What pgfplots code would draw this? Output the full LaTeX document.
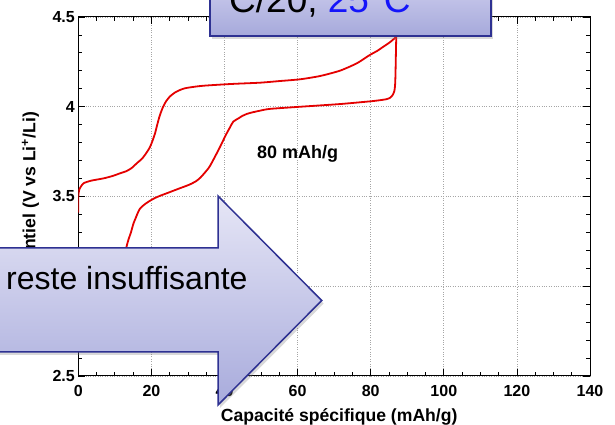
\documentclass[border=0pt]{standalone}
\usepackage{pgfplots}
\pgfplotsset{compat=1.18}
\usepackage{fontspec}
\setmainfont{Liberation Sans}
\usetikzlibrary{shadows}
\definecolor{curvered}{RGB}{228,0,0}
\definecolor{bordblue}{RGB}{46,49,146}
\definecolor{boxtop}{RGB}{206,206,238}
\definecolor{boxbot}{RGB}{166,169,219}
\definecolor{arrtop}{RGB}{230,230,246}
\definecolor{arrbot}{RGB}{168,171,220}
\definecolor{textblue}{RGB}{20,20,250}
\begin{document}
\begin{tikzpicture}
\begin{axis}[
  at={(78.3pt,49pt)}, anchor=south west,
  scale only axis, width=511.7pt, height=359pt,
  xmin=0, xmax=140, ymin=2.5, ymax=4.5,
  xtick={0,20,...,140}, ytick={2.5,3,3.5,4,4.5},
  minor x tick num=3, minor y tick num=4,
  tick align=inside, major tick length=7pt, minor tick length=4pt,
  grid=major, major grid style={dotted, black!35, line width=0.8pt},
  axis line style={line width=1pt},
  every tick/.style={black, line width=0.8pt},
  ticklabel style={font=\fontsize{16}{18}\selectfont\bfseries},
  xticklabel style={yshift=-6pt},
  /pgf/number format/assume math mode=true,
  xlabel={Capacité spécifique (mAh/g)},
  ylabel={Potentiel (V vs Li\textsuperscript{+}/Li)},
  label style={font=\fontsize{17.6}{19}\selectfont\bfseries},
  xlabel style={at={(axis description cs:0.5,0)}, anchor=base, yshift=-45.5pt, xshift=5pt},
  ylabel style={at={(axis description cs:-0.084,0.49)}, anchor=base},
]
\addplot[curvered, line width=1.8pt, line join=round, smooth, tension=0.4] coordinates {
(0,3.41) (0,3.50) (0.3,3.54) (1.4,3.573) (3.5,3.588) (6.9,3.601) (9.5,3.615) (11.4,3.629)
(13.0,3.640) (14.5,3.657) (16.0,3.685) (17.5,3.712) (18.7,3.745) (19.6,3.775)
(20.3,3.81) (21.0,3.852) (21.6,3.90) (22.2,3.945) (23.0,3.99) (24.0,4.03)
(25.1,4.058) (26.5,4.08) (27.8,4.093) (29,4.102) (30.6,4.108) (34.2,4.117) (42,4.127)
(49.7,4.134) (55,4.143) (60.7,4.153) (66.1,4.171) (71.6,4.201) (76.2,4.242)
(79.8,4.289) (81.7,4.31) (83.5,4.335) (85.3,4.36) (86.7,4.385) (87.0,4.40)
};
\addplot[curvered, line width=1.8pt, line join=round, smooth, tension=0.4] coordinates {
(87.0,4.40) (86.9,4.30) (86.8,4.20) (86.7,4.13) (86.5,4.09) (86.0,4.065) (85.3,4.05)
(84.3,4.042) (82,4.035) (79.8,4.03) (71.6,4.015) (60.7,4.000) (52.4,3.988)
(49.7,3.978) (47.5,3.968) (46.1,3.960) (44.8,3.948) (43.8,3.935) (42.4,3.917)
(41.5,3.885) (40.6,3.852) (39.7,3.815) (38.8,3.777) (37.4,3.722) (36.3,3.68)
(35.6,3.657) (34.5,3.63) (33.4,3.605) (32.2,3.585) (30.5,3.567) (29.0,3.555)
(27.8,3.546) (26,3.532) (24.2,3.518) (22.5,3.505) (21.0,3.492) (19.6,3.476)
(18.4,3.46) (17.5,3.445) (16.8,3.43) (16.3,3.41) (15.7,3.38) (15.1,3.35)
(14.4,3.30) (13.7,3.258) (13.1,3.211) (12.6,3.13) (12.3,3.0)
};
\node[anchor=base, font=\fontsize{18}{20}\selectfont\bfseries] at (axis cs:60,3.713) {80 mAh/g};
\end{axis}
% arrow
\draw[bordblue, line width=1.5pt, top color=arrtop, bottom color=arrbot,
      drop shadow={shadow xshift=2pt, shadow yshift=-3pt, opacity=0.3}]
  (-20pt,177pt) -- (218pt,177pt) -- (218pt,229pt) -- (321.7pt,124.5pt)
  -- (218pt,20pt) -- (218pt,73pt) -- (-20pt,73pt) -- cycle;
\node[anchor=base west, inner sep=0, font=\fontsize{32}{36}\selectfont] at (6pt,135.7pt) {reste insuffisante};
% title box
\draw[bordblue, line width=1.5pt, top color=boxtop, bottom color=boxbot,
      drop shadow={shadow xshift=2pt, shadow yshift=-3pt, opacity=0.3}]
  (210pt,389pt) rectangle (491pt,445pt);
\node[anchor=base west, inner sep=0, font=\fontsize{37}{40}\selectfont] at (229pt,412pt) {C/20, \textcolor{textblue}{25°C}};
\pgfresetboundingbox
\useasboundingbox (0pt,0pt) rectangle (615pt,425pt);
\end{tikzpicture}
\end{document}
